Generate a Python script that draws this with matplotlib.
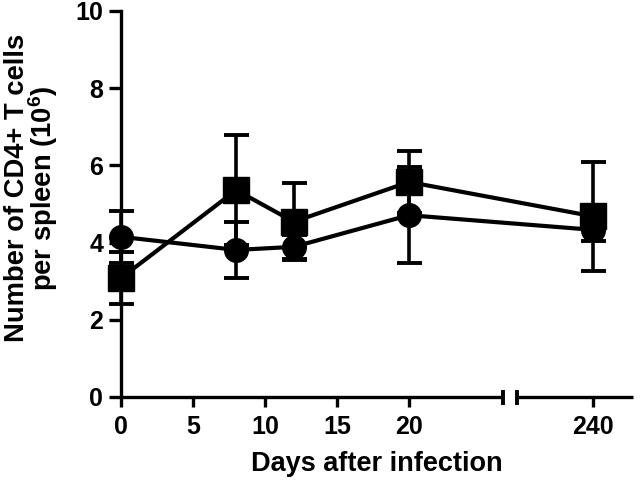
import numpy as np
import matplotlib
matplotlib.use("Agg")
import matplotlib.pyplot as plt

plt.rcParams['font.family'] = ['Liberation Sans', 'DejaVu Sans']
plt.rcParams['font.weight'] = 'bold'
plt.rcParams['mathtext.fontset'] = 'custom'
plt.rcParams['mathtext.rm'] = 'Liberation Sans:bold'
plt.rcParams['mathtext.bf'] = 'Liberation Sans:bold'
plt.rcParams['mathtext.default'] = 'bf'

# ---- data ----
days = [0, 8, 12, 20, 240]
square_vals = [3.08, 5.36, 4.54, 5.57, 4.68]
square_err = [0.68, 1.43, 1.0, 0.8, 1.41]
circle_vals = [4.15, 3.81, 3.89, 4.71, 4.33]
circle_err = [0.67, 0.72, 0.31, 1.24, 0.3]
x_ticks = [0, 5, 10, 15, 20, 240]
y_ticks = [0, 2, 4, 6, 8, 10]

# ---- broken x scale ----
B0, P1, B1 = 26.5, 27.5, 234.7


def fwd(x):
    x = np.asarray(x, dtype=float)
    return np.where(x <= B0, x,
                    np.where(x >= B1, P1 + (x - B1),
                             B0 + (x - B0) * (P1 - B0) / (B1 - B0)))


def inv(y):
    y = np.asarray(y, dtype=float)
    return np.where(y <= B0, y,
                    np.where(y >= P1, B1 + (y - P1),
                             B0 + (y - B0) * (B1 - B0) / (P1 - B0)))


fig = plt.figure(figsize=(6.4, 4.8), dpi=100)
ax = fig.add_axes([121 / 640, 1 - 397 / 480, 512 / 640, 386 / 480])
ax.set_xscale('function', functions=(fwd, inv))

common = dict(color='black', lw=3.0, elinewidth=2.6, capsize=9, capthick=2.8,
              clip_on=False)
ax.errorbar(days, circle_vals, yerr=circle_err, fmt='-o', ms=17, **common)
ax.errorbar(days, square_vals, yerr=square_err, fmt='-s', ms=19, **common)

ax.set_xlim(0, B1 + (35.56 - P1))
ax.set_ylim(0, 10)
ax.set_xticks(x_ticks)
ax.set_xticklabels([str(t) for t in x_ticks])
ax.set_yticks(y_ticks)
ax.minorticks_off()

for s in ['top', 'right', 'bottom']:
    ax.spines[s].set_visible(False)
ax.spines['left'].set_linewidth(2.4)

ax.tick_params(axis='both', direction='out', width=2.4, labelsize=18)
ax.tick_params(axis='y', length=8.6, pad=4.3)
ax.tick_params(axis='x', length=7.2, pad=5.5)

# bottom axis with break
xt = ax.get_xaxis_transform()
ax.plot([0, B0], [0, 0], transform=xt, color='black', lw=2.4, clip_on=False,
        solid_capstyle='butt')
ax.plot([B1, ax.get_xlim()[1]], [0, 0], transform=xt,
        color='black', lw=2.4, clip_on=False, solid_capstyle='butt')
for xb in [B0, B1]:
    ax.plot([xb, xb], [-0.02, 0.018], transform=xt, color='black', lw=2.8,
            clip_on=False, solid_capstyle='butt')

ax.set_xlabel('Days after infection', fontsize=19.5, fontweight='bold',
              labelpad=9)
fig.text(32 / 640, 1 - 188 / 480, 'Number of CD4+ T cells\nper spleen (10$^{6}$)',
         rotation=90, ha='center', va='center', fontsize=19.7, fontweight='bold',
         multialignment='center', linespacing=0.85)

fig.savefig('out.png', dpi=100)
